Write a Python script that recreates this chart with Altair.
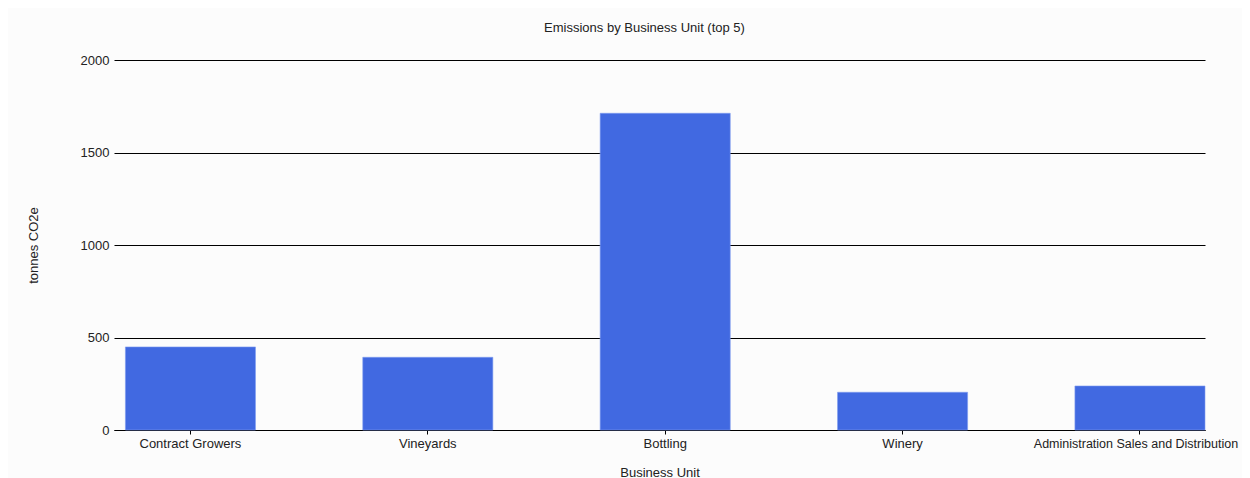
import altair as alt
import pandas as pd

units = ["Contract Growers", "Vineyards", "Bottling", "Winery", "Administration Sales and Distribution"]
emissions = [449, 393, 1712, 204, 238]

df = pd.DataFrame({"unit": units, "emissions": emissions})

FONT = "Liberation Sans"
LAST = units[-1]

bars = alt.Chart(df).mark_bar(color="#4169E1", stroke="#7f9cf0", strokeWidth=0.6).encode(
    x=alt.X("unit:N", sort=units, title="Business Unit",
            scale=alt.Scale(paddingInner=0.452, paddingOuter=0.024, align=1),
            axis=alt.Axis(labelAngle=0, labelFont=FONT,
                          labelFontSize={"expr": f"datum.label == '{LAST}' ? 12.5 : 13"},
                          labelOffset={"expr": f"datum.label == '{LAST}' ? -4 : 0"},
                          labelColor="#222222",
                          labelPadding=3, labelLimit=0, labelOverlap=False,
                          domain=True, domainColor="#000000", domainWidth=1,
                          ticks=True, tickColor="#000000", tickSize=4,
                          titleFont=FONT, titleFontSize=13, titleFontWeight="normal",
                          titleColor="#222222", titlePadding=16, grid=False)),
    y=alt.Y("emissions:Q", title="tonnes CO2e",
            scale=alt.Scale(domain=[0, 2000], nice=False),
            axis=alt.Axis(values=[0, 500, 1000, 1500, 2000], format="d", domain=False, ticks=False,
                          grid=True, gridColor="#000000", gridWidth=1, gridOpacity=1,
                          labelFont=FONT, labelFontSize=13, labelColor="#222222", labelPadding=5,
                          titleFont=FONT, titleFontSize=13, titleFontWeight="normal",
                          titleColor="#222222", titlePadding=40)),
)

chart = bars.properties(
    width=1091, height=370,
    title=alt.TitleParams("Emissions by Business Unit (top 5)", font=FONT, fontSize=13,
                          fontWeight="normal", color="#222222", anchor="middle", dx=-15, offset=19),
    autosize=alt.AutoSizeParams(type="none"),
    padding={"left": 106, "top": 52, "right": 37, "bottom": 48},
    background="#fcfcfc",
).configure_view(stroke=None)

chart.save("out.html", embed_options={"renderer": "svg", "actions": False})
